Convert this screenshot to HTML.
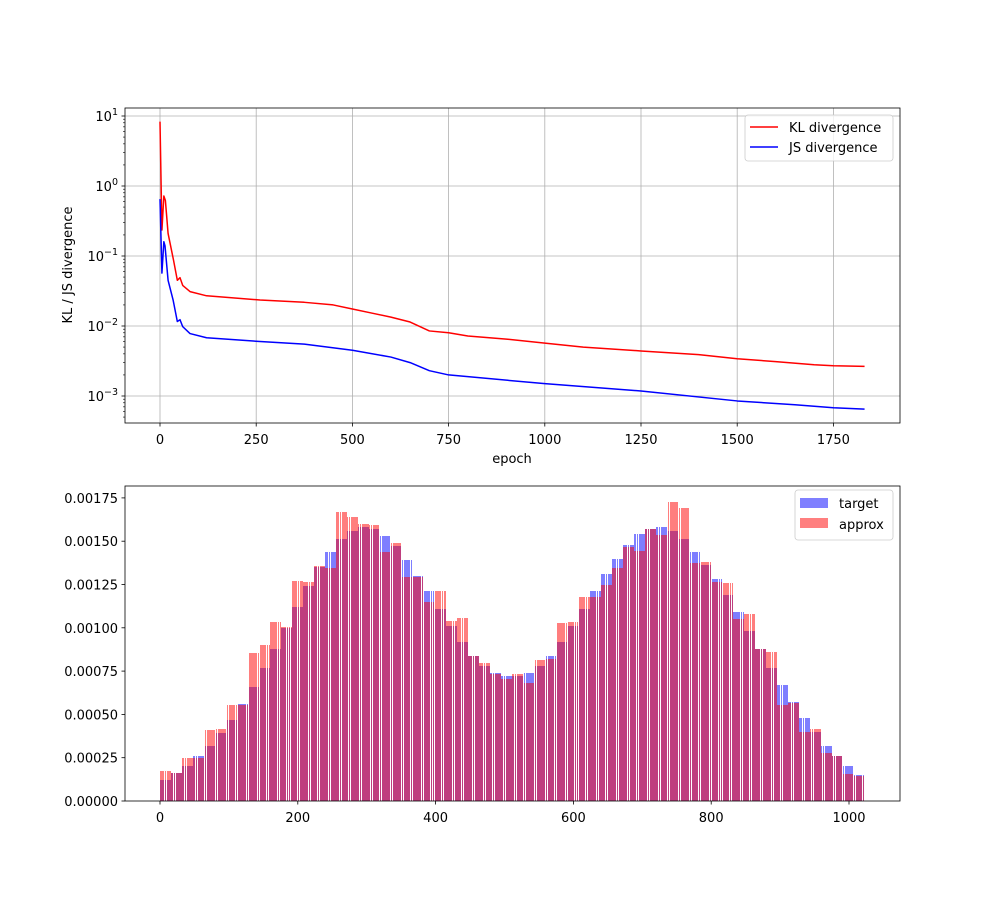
<!DOCTYPE html>
<html><head><meta charset="utf-8"><style>
body{margin:0;background:#fff;}
svg text{font-family:"DejaVu Sans","Liberation Sans",sans-serif;font-size:13px;fill:#000;}
</style></head><body>
<svg id="fig" width="1000" height="900" xmlns="http://www.w3.org/2000/svg">
<rect width="1000" height="900" fill="#fff"/>
<g id="topchart"></g>
<g id="botchart"></g>
</svg>
<script>
// ---- top chart data ----
const klEpochs = [0,5,10,14,21,35,45,52,59,78,121,260,375,450,500,550,600,650,700,750,800,900,1000,1100,1250,1400,1500,1600,1700,1750,1831];
const klValues = [8.3,0.235,0.72,0.62,0.21,0.088,0.045,0.049,0.038,0.031,0.027,0.0235,0.0218,0.020,0.0175,0.0153,0.0134,0.0114,0.0085,0.0080,0.0072,0.0065,0.0057,0.0050,0.0044,0.0039,0.0034,0.0031,0.0028,0.0027,0.00265];
const jsEpochs = [0,5,10,13,21,34,45,52,59,78,121,260,375,500,600,650,700,750,1000,1250,1500,1650,1750,1831];
const jsValues = [0.65,0.057,0.16,0.14,0.045,0.0236,0.0116,0.0123,0.0098,0.0078,0.0068,0.0060,0.0055,0.0045,0.0036,0.0030,0.0023,0.0020,0.0015,0.00118,0.00085,0.00075,0.00068,0.00065];
const topXTicks = [0,250,500,750,1000,1250,1500,1750];
const topYExps = [1,0,-1,-2,-3];
// ---- bottom chart data (64 blocks of 16 bins) ----
const binsPerBlock = 16;
const approxBlocks = [0.000173,0.000163,0.000248,0.000250,0.000410,0.000415,0.000554,0.000554,0.000854,0.000901,0.001034,0.001007,0.001270,0.001264,0.001357,0.001347,0.001670,0.001642,0.001599,0.001594,0.001438,0.001490,0.001295,0.001293,0.001151,0.001214,0.001039,0.001057,0.000839,0.000797,0.000733,0.000705,0.000733,0.000683,0.000814,0.000818,0.001026,0.001035,0.001176,0.001180,0.001247,0.001344,0.001468,0.001445,0.001569,0.001536,0.001728,0.001690,0.001376,0.001382,0.001266,0.001257,0.001049,0.001080,0.000876,0.000862,0.000554,0.000568,0.000400,0.000416,0.000275,0.000260,0.000154,0.000144];
const targetBlocks = [0.00012,0.00016,0.00020,0.00026,0.00032,0.00039,0.00047,0.00056,0.00066,0.00077,0.00088,0.00100,0.00112,0.00124,0.00135,0.00144,0.00151,0.00156,0.00158,0.00157,0.00153,0.00147,0.00139,0.00130,0.00121,0.00111,0.00101,0.00092,0.00084,0.00078,0.00074,0.00072,0.00072,0.00074,0.00078,0.00084,0.00092,0.00101,0.00111,0.00121,0.00131,0.00140,0.00148,0.00154,0.00157,0.00158,0.00156,0.00151,0.00144,0.00136,0.00128,0.00119,0.00109,0.00098,0.00088,0.00077,0.00067,0.00057,0.00048,0.00040,0.00032,0.00026,0.00020,0.00015];
const botXTicks = [0,200,400,600,800,1000];
const botYTicks = [0,0.00025,0.0005,0.00075,0.001,0.00125,0.0015,0.00175];

const NS="http://www.w3.org/2000/svg";
function mk(parent,tag,attrs,txt){const e=document.createElementNS(NS,tag);for(const k in attrs)e.setAttribute(k,attrs[k]);if(txt!==undefined)e.textContent=txt;parent.appendChild(e);return e;}

// ---------- TOP ----------
const topG=document.getElementById('topchart');
const tL=125,tR=900,tT=108,tB=423;
const tx=e=>160+e*(96.2/250);
const ty=v=>186-70*Math.log10(v);
for(const t of topXTicks){
  const g=mk(topG,'line',{x1:tx(t),x2:tx(t),y1:tT,y2:tB,stroke:'#b0b0b0','stroke-width':0.8});
  
  
  mk(topG,'line',{x1:tx(t),x2:tx(t),y1:tB,y2:tB+3.5,stroke:'#000','stroke-width':0.8});
  const l=mk(topG,'text',{x:tx(t),y:tB+21,'text-anchor':'middle'},String(t));
  
  
}
for(const ex of topYExps){
  const y=ty(Math.pow(10,ex));
  const g=mk(topG,'line',{x1:tL,x2:tR,y1:y,y2:y,stroke:'#b0b0b0','stroke-width':0.8});
  
  
  mk(topG,'line',{x1:tL-3.5,x2:tL,y1:y,y2:y,stroke:'#000','stroke-width':0.8});
  const l=mk(topG,'text',{x:tL-7,y:y+5,'text-anchor':'end'});
  
  
  mk(l,'tspan',{},'10');
  mk(l,'tspan',{dy:-6,'font-size':'9.5px'},ex<0?'−'+(-ex):String(ex));
}
for(let ex=-4;ex<=1;ex++){for(let m=2;m<=9;m++){const y=ty(m*Math.pow(10,ex));if(y>tT&&y<tB)mk(topG,'line',{x1:tL-2,x2:tL,y1:y,y2:y,stroke:'#000','stroke-width':0.6});}}
function drawLine(xs,ys,col,name){
  const d=xs.map((e,i)=>(i?'L':'M')+tx(e).toFixed(2)+','+ty(ys[i]).toFixed(2)).join(' ');
  const p=mk(topG,'path',{d:d,fill:'none',stroke:col,'stroke-width':1.5,'stroke-linejoin':'round'});
  
  
}
drawLine(klEpochs,klValues,'#ff0000','kl-line');
drawLine(jsEpochs,jsValues,'#0000ff','js-line');
mk(topG,'rect',{x:tL,y:tT,width:tR-tL,height:tB-tT,fill:'none',stroke:'#000','stroke-width':0.8});
const xl=mk(topG,'text',{x:512,y:463,'text-anchor':'middle'},'epoch');


const yl=mk(topG,'text',{x:72,y:265,'text-anchor':'middle',transform:'rotate(-90 72 265)'},'KL / JS divergence');


const lg=mk(topG,'g',{});


mk(lg,'rect',{x:745,y:115,width:148,height:46,rx:3,fill:'#fff','fill-opacity':0.8,stroke:'#ccc','stroke-width':0.8});
mk(lg,'line',{x1:750,x2:778,y1:127,y2:127,stroke:'#ff0000','stroke-width':1.5});
mk(lg,'text',{x:789,y:132},'KL divergence');
mk(lg,'line',{x1:750,x2:778,y1:147,y2:147,stroke:'#0000ff','stroke-width':1.5});
mk(lg,'text',{x:789,y:152},'JS divergence');

// ---------- BOTTOM ----------
const botG=document.getElementById('botchart');
const bL=125,bR=900,bT=486,bB=801;
const bx=i=>160+i*0.689;
const by=v=>801-v*(43.3/0.00025);
const bw=0.8*0.689;
function bars(blocks,col,name){
  const g=mk(botG,'g',{fill:col,opacity:0.5,'shape-rendering':'crispEdges'});
  
  
  blocks.forEach((v,b)=>{for(let k=0;k<binsPerBlock;k++){const i=b*binsPerBlock+k;
    const l=Math.round(bx(i)-bw/2);
    const r=Math.round(bx(i)+bw/2);
    if(r<=l) continue;
    const top=Math.round(by(v));
    mk(g,'rect',{x:l,y:top,width:r-l,height:bB-top});
  }});
}
bars(targetBlocks,'#0000ff','target-bars');
bars(approxBlocks,'#ff0000','approx-bars');
for(const t of botXTicks){
  mk(botG,'line',{x1:bx(t),x2:bx(t),y1:bB,y2:bB+3.5,stroke:'#000','stroke-width':0.8});
  const l=mk(botG,'text',{x:bx(t),y:bB+21,'text-anchor':'middle'},String(t));
  
  
}
for(const t of botYTicks){
  mk(botG,'line',{x1:bL-3.5,x2:bL,y1:by(t),y2:by(t),stroke:'#000','stroke-width':0.8});
  const l=mk(botG,'text',{x:bL-7,y:by(t)+5,'text-anchor':'end'},t.toFixed(5));
  
  
}
mk(botG,'rect',{x:bL,y:bT,width:bR-bL,height:bB-bT,fill:'none',stroke:'#000','stroke-width':0.8});
const lg2=mk(botG,'g',{});


mk(lg2,'rect',{x:795,y:490,width:98,height:50,rx:3,fill:'#fff','fill-opacity':0.8,stroke:'#ccc','stroke-width':0.8});
mk(lg2,'rect',{x:800,y:498,width:28,height:10,fill:'#0000ff','fill-opacity':0.5});
mk(lg2,'text',{x:839,y:508},'target');
mk(lg2,'rect',{x:800,y:518,width:28,height:10,fill:'#ff0000','fill-opacity':0.5});
mk(lg2,'text',{x:839,y:529},'approx');
</script>
</body></html>
